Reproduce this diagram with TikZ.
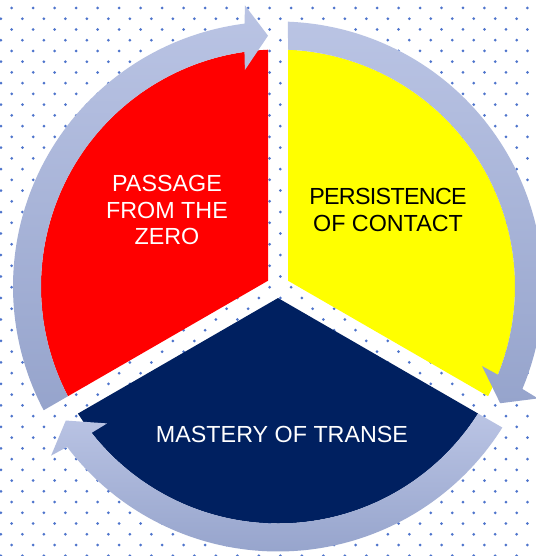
\documentclass[tikz,border=0pt]{standalone}
\usepackage{fontspec}
\setmainfont{Liberation Sans}
\definecolor{dotblue}{RGB}{78,116,204}
\definecolor{ringtop}{RGB}{186,196,228}
\definecolor{ringbot}{RGB}{150,164,204}
\definecolor{navyblue}{RGB}{0,32,96}
\definecolor{pureyellow}{RGB}{255,255,0}
\definecolor{purered}{RGB}{255,0,0}
\begin{document}
\begin{tikzpicture}[x=1pt,y=1pt,
  lbl/.style={font=\fontsize{23.3}{26.7}\selectfont, anchor=base, inner sep=0pt},
  ringshade/.style={top color=ringtop, bottom color=ringbot, draw=none},
  ringarr/.style 2 args={insert path={
    (#1-2.16:265) arc[start angle=#1-2.16, end angle=#2+7.26, radius=265]
    -- (#2+6.7:283) -- (#2+2.28:251) -- (#2+8.7:219) -- (#2+8.14:237)
    arc[start angle=#2+8.14, end angle=#1-2.42, radius=237] -- cycle}}]
\useasboundingbox (0,0) rectangle (535,556);
\fill[white] (0,0) rectangle (535,556);
% dotted background
\begin{scope}
\clip (0,0) rectangle (535,556);
\foreach \j in {0,...,51} {
  \pgfmathsetmacro{\yy}{556-8-10.74*\j}
  \pgfmathsetmacro{\xo}{mod(\j,2)==0 ? 11.7 : 0.955}
  \foreach \i in {0,...,25} {
    \fill[dotblue] (\xo+21.49*\i, \yy) circle (1.5);
  }
}
\end{scope}
% sectors and ring
\begin{scope}[shift={(278,269.5)}]
  \coordinate (c) at (0,0);
  \fill[pureyellow] (30:11.55) -- (87.58:237)
     arc[start angle=87.58, end angle=-27.58, radius=237] -- cycle;
  \fill[navyblue] (270:11.55) -- (-32.42:237)
     arc[start angle=-32.42, end angle=-147.58, radius=237] -- cycle;
  \fill[purered] (150:11.55) -- (207.58:237)
     arc[start angle=207.58, end angle=92.42, radius=237] -- cycle;
  \shade[ringshade] [ringarr={210}{90}];
  \shade[ringshade] [ringarr={90}{-30}];
  \shade[ringshade] [ringarr={-30}{-150}];
\end{scope}
% labels
\node[lbl, white] (p1) at (167,364.3) {PASSAGE};
\node[lbl, white] (p2) at (167,337.7) {FROM THE};
\node[lbl, white] (p3) at (167,311) {ZERO};
\node[lbl, black] (y1) at (388,351) {\addfontfeature{LetterSpace=-3}PERSISTENCE};
\node[lbl, black] (y2) at (388,324.3) {OF CONTACT};
\node[lbl, white] (n1) at (282,113) {MASTERY OF TRANSE};
\end{tikzpicture}
\end{document}
